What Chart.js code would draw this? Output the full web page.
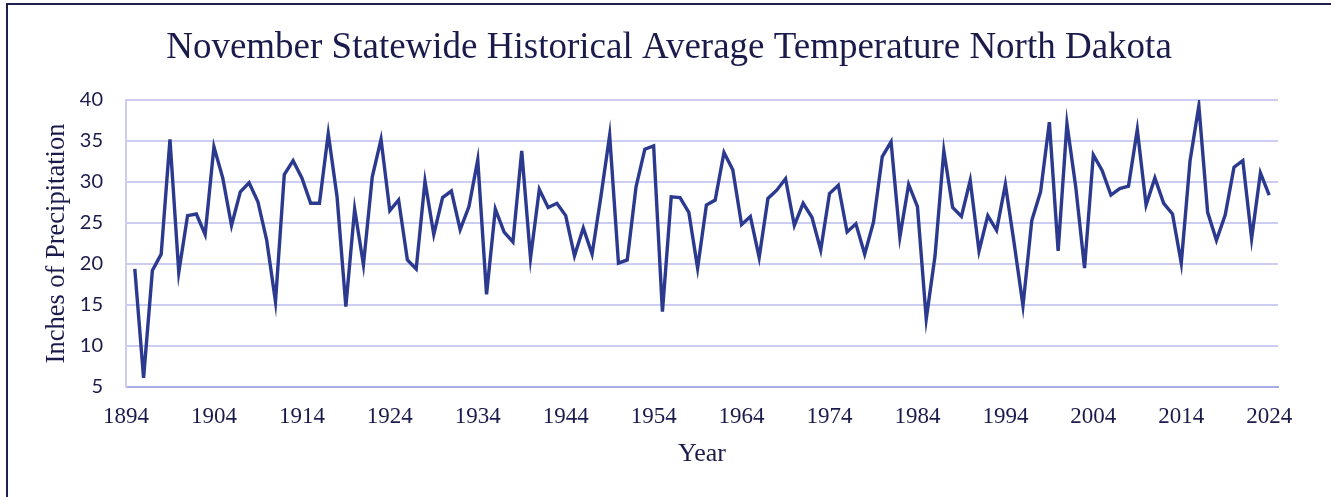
<!DOCTYPE html>
<html>
<head>
<meta charset="utf-8">
<script src="https://cdn.jsdelivr.net/npm/chart.js@4.4.1/dist/chart.umd.min.js"></script>
<style>
html,body{margin:0;padding:0;background:#fff;}
#wrap{position:relative;width:1331px;height:497px;overflow:hidden;}
#frame{position:absolute;left:6px;top:3px;width:1400px;height:600px;border-left:2px solid #1f1f4f;border-top:2px solid #1f1f4f;box-sizing:border-box;}
canvas{position:absolute;left:0;top:0;}
</style>
</head>
<body>
<div id="wrap"><div id="frame"></div><canvas id="c" width="1331" height="497"></canvas></div>
<script>
const years = [1895,1896,1897,1898,1899,1900,1901,1902,1903,1904,1905,1906,1907,1908,1909,1910,1911,1912,1913,1914,1915,1916,1917,1918,1919,1920,1921,1922,1923,1924,1925,1926,1927,1928,1929,1930,1931,1932,1933,1934,1935,1936,1937,1938,1939,1940,1941,1942,1943,1944,1945,1946,1947,1948,1949,1950,1951,1952,1953,1954,1955,1956,1957,1958,1959,1960,1961,1962,1963,1964,1965,1966,1967,1968,1969,1970,1971,1972,1973,1974,1975,1976,1977,1978,1979,1980,1981,1982,1983,1984,1985,1986,1987,1988,1989,1990,1991,1992,1993,1994,1995,1996,1997,1998,1999,2000,2001,2002,2003,2004,2005,2006,2007,2008,2009,2010,2011,2012,2013,2014,2015,2016,2017,2018,2019,2020,2021,2022,2023,2024];
const values = [19.4,6.1,19.2,21.2,35.2,19.0,25.9,26.1,23.6,34.3,30.5,24.7,28.8,29.9,27.6,22.9,15.4,30.9,32.6,30.5,27.4,27.4,35.9,28.2,14.8,26.7,19.9,30.6,35.2,26.5,27.8,20.5,19.4,30.1,23.6,28.1,28.9,24.2,27.0,32.7,16.3,26.7,23.9,22.7,33.8,20.7,29.1,26.9,27.4,25.9,21.0,24.4,21.2,28.2,35.7,20.1,20.5,29.4,34.0,34.4,14.2,28.2,28.1,26.3,19.5,27.2,27.8,33.6,31.5,24.8,25.8,20.8,28.0,29.0,30.4,24.7,27.4,25.7,21.7,28.6,29.6,23.9,24.9,21.2,25.1,33.1,34.9,23.3,29.7,27.0,13.3,21.0,33.8,26.9,25.8,30.2,21.6,25.9,24.1,29.7,22.5,14.9,25.3,28.8,37.3,21.6,37.1,29.4,19.5,33.3,31.4,28.4,29.2,29.5,36.4,27.2,30.5,27.4,26.1,20.1,32.6,39.3,26.3,22.9,26.0,31.8,32.6,23.1,31.1,28.4];
const xTickYears = [1894,1904,1914,1924,1934,1944,1954,1964,1974,1984,1994,2004,2014,2024];
const yTicks = [5,10,15,20,25,30,35,40];
const titleText = 'November Statewide Historical Average Temperature North Dakota';
const xTitle = 'Year';
const yTitle = 'Inches of Precipitation';

const points = years.map((y, i) => ({x: y, y: values[i]}));
const navy = '#1b1b4b';

const titlePlugin = {
  id: 'customTitle',
  afterDraw(chart) {
    const ctx = chart.ctx;
    ctx.save();
    ctx.font = '37px "Liberation Serif"';
    ctx.fillStyle = navy;
    ctx.textAlign = 'center';
    ctx.textBaseline = 'middle';
    ctx.fillText(titleText, 669, 48);
    ctx.restore();
  }
};

new Chart(document.getElementById('c'), {
  type: 'line',
  data: { datasets: [{ data: points, borderColor: '#2b3a8f', borderWidth: 3.4, pointRadius: 0, tension: 0, fill: false }] },
  plugins: [titlePlugin],
  options: {
    responsive: false,
    animation: false,
    layout: { padding: { left: 0, right: 53, top: 100, bottom: 0 } },
    plugins: {
      legend: { display: false },
      tooltip: { enabled: false },
      title: { display: false }
    },
    scales: {
      x: {
        type: 'linear', min: 1894, max: 2025,
        afterBuildTicks: (ax) => { ax.ticks = xTickYears.map(v => ({ value: v })); },
        afterFit: (ax) => { ax.height = 110; },
        grid: { display: false },
        border: { display: true, color: '#a9a9e6', width: 2 },
        ticks: { autoSkip: false, maxRotation: 0, color: navy, padding: 8,
          font: { family: 'Liberation Serif', size: 23 },
          callback: (v) => String(v) },
        title: { display: true, text: xTitle, color: navy,
          font: { family: 'Liberation Serif', size: 26 }, padding: { top: 0, bottom: 27 } }
      },
      y: {
        min: 5, max: 40,
        afterBuildTicks: (ax) => { ax.ticks = yTicks.map(v => ({ value: v })); },
        afterFit: (ax) => { ax.width = 126; },
        grid: { color: '#cdcdf3', lineWidth: 2, drawTicks: false },
        border: { display: true, color: '#cdcdf3', width: 2 },
        ticks: { color: navy, padding: 23, font: { family: 'Lato', size: 20 } },
        title: { display: true, text: yTitle, color: navy,
          font: { family: 'Liberation Serif', size: 26.5 }, padding: { top: 41, bottom: 0 } }
      }
    }
  }
});
</script>
</body>
</html>
